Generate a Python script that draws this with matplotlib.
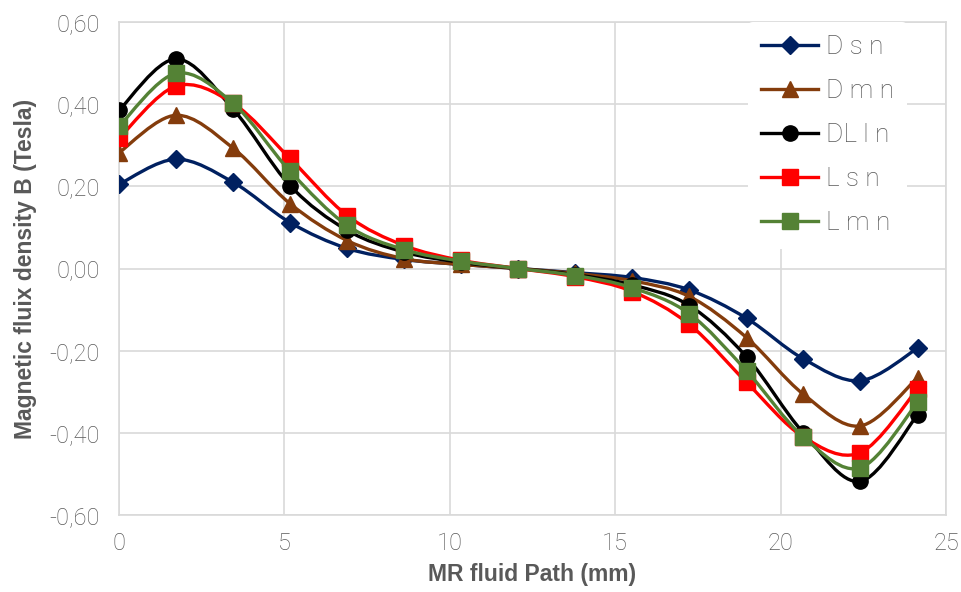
import numpy as np
import matplotlib.pyplot as plt
from matplotlib.path import Path
from matplotlib.patches import PathPatch
from matplotlib.lines import Line2D
from matplotlib.ticker import FuncFormatter

# Положение точек вдоль пути МР-жидкости, мм
x = [0.0, 1.72, 3.45, 5.17, 6.90, 8.62, 10.34, 12.07, 13.79, 15.52,
     17.24, 18.97, 20.69, 22.41, 24.14]

# Магнитная индукция, Тл
b_dsn = [0.205, 0.266, 0.210, 0.112, 0.049, 0.022, 0.010, 0.0, -0.010, -0.022,
         -0.052, -0.121, -0.220, -0.273, -0.194]
b_dmn = [0.282, 0.373, 0.293, 0.158, 0.068, 0.024, 0.010, 0.0, -0.012, -0.030,
         -0.068, -0.168, -0.306, -0.383, -0.266]
b_dlln = [0.385, 0.510, 0.388, 0.202, 0.093, 0.040, 0.015, 0.0, -0.015, -0.040,
          -0.090, -0.215, -0.400, -0.518, -0.356]
b_lsn = [0.317, 0.444, 0.402, 0.268, 0.129, 0.056, 0.020, 0.0, -0.020, -0.056,
         -0.136, -0.277, -0.410, -0.448, -0.293]
b_lmn = [0.346, 0.475, 0.402, 0.237, 0.105, 0.046, 0.018, 0.0, -0.017, -0.047,
         -0.110, -0.249, -0.410, -0.485, -0.326]

names = ['D s n', 'D m n', 'DL l n', 'L s n', 'L m n']
series = [b_dsn, b_dmn, b_dlln, b_lsn, b_lmn]
colors = ['#002060', '#843C0C', '#000000', '#FF0000', '#548235']
markers = ['D', '^', 'o', 's', 's']
msizes = [9, 11, 11, 11, 11]

gray = '#595959'
plt.rcParams['font.family'] = ['Roboto', 'DejaVu Sans']


def smooth_path(xs, ys):
    # сглаженная линия из кубических кривых Безье (как в Excel)
    p = np.column_stack([xs, ys])
    ext = np.vstack([p[0], p, p[-1]])
    verts = [p[0]]
    codes = [Path.MOVETO]
    for i in range(len(p) - 1):
        c1 = ext[i + 1] + (ext[i + 2] - ext[i]) / 6
        c2 = ext[i + 2] - (ext[i + 3] - ext[i + 1]) / 6
        verts += [c1, c2, ext[i + 2]]
        codes += [Path.CURVE4] * 3
    return Path(verts, codes)


fig = plt.figure(figsize=(9.61, 5.92), dpi=100)
ax = fig.add_axes([0.1238, 0.130, 0.8606, 0.8328])

handles = []
for k, (y, c, m, ms, lab) in enumerate(zip(series, colors, markers, msizes, names)):
    ax.add_patch(PathPatch(smooth_path(x, y), facecolor='none', edgecolor=c,
                           lw=2.4, zorder=3 + 2 * k))
    ax.plot(x, y, linestyle='none', marker=m, color=c, markersize=ms,
            zorder=4 + 2 * k)
    handles.append(Line2D([], [], color=c, lw=2.4, marker=m, markersize=ms))

ax.set_xlim(0, 25)
ax.set_ylim(-0.6, 0.6)
ax.set_xticks(np.arange(0, 26, 5))
ax.set_yticks(np.arange(-0.6, 0.61, 0.2))
ax.yaxis.set_major_formatter(FuncFormatter(lambda v, p: f'{v:.2f}'.replace('.', ',').replace('-0,00', '0,00')))
ax.grid(True, color='#d9d9d9', lw=1.2, zorder=0)
for s in ax.spines.values():
    s.set_color('#d9d9d9')
    s.set_linewidth(1.2)
ax.tick_params(length=0, labelsize=17, labelcolor=gray)
ax.tick_params(axis='x', pad=12)
ax.tick_params(axis='y', pad=14)
for t in ax.get_xticklabels() + ax.get_yticklabels():
    t.set_fontweight('light')

ax.set_xlabel('MR fluid Path (mm)', fontsize=16.5, fontweight='bold', color=gray, labelpad=6,
              family=['Liberation Sans', 'DejaVu Sans'])
ax.set_ylabel('Magnetic fluix density B (Tesla)', fontsize=16.5, fontweight='bold',
              color=gray, labelpad=9, family=['Liberation Sans', 'DejaVu Sans'])

leg = ax.legend(handles, names, loc='upper right', bbox_to_anchor=(0.953, 1.0),
                frameon=True, facecolor='white', edgecolor='none', framealpha=1,
                prop={'family': ['Roboto', 'DejaVu Sans'], 'weight': 'light', 'size': 19},
                labelcolor=gray, handlelength=2.15, labelspacing=0.76,
                borderpad=0.5, handletextpad=0.3, borderaxespad=0)
leg.set_zorder(20)

plt.savefig('out.png', dpi=100)
